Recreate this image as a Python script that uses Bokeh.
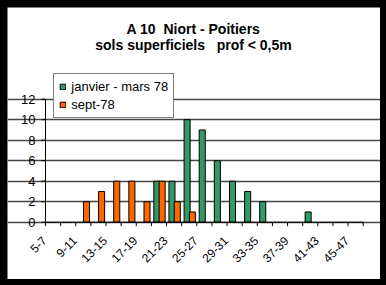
import numpy as np
from math import pi
from bokeh.plotting import figure
from bokeh.models import (ColumnDataSource, FixedTicker, Legend, LegendItem,
                          Label, Range1d)
from bokeh.core.properties import value
from bokeh.layouts import column
from bokeh.embed import file_html
from bokeh.resources import INLINE

# ---- data ----
categories = ["5-7", "7-9", "9-11", "11-13", "13-15", "15-17", "17-19",
              "19-21", "21-23", "23-25", "25-27", "27-29", "29-31", "31-33",
              "33-35", "35-37", "37-39", "39-41", "41-43", "43-45", "45-47"]
janvier_mars_78 = [0, 0, 0, 0, 0, 0, 0, 4, 4, 10, 9, 6, 4, 3, 2, 0, 0, 1, 0, 0, 0]
sept_78 = [0, 0, 2, 3, 4, 4, 2, 4, 2, 1, 0, 0, 0, 0, 0, 0, 0, 0, 0, 0, 0]
series_names = ["janvier - mars 78", "sept-78"]
y_ticks = [0, 2, 4, 6, 8, 10, 12]
title_lines = ["A 10 \u00a0Niort - Poitiers",
               "sols superficiels \u00a0\u00a0prof < 0,5m"]

GREEN = "#339966"
ORANGE = "#FF6600"
FONT = "Liberation Sans"
PY = 10.25    # pixels per y unit
PX = 15.129   # pixels per category

n = len(categories)
idx = np.arange(n)
y_max = y_ticks[-1]

def src(vals, off):
    vals = np.array(vals, dtype=float)
    m = vals > 0
    return ColumnDataSource(dict(x=(idx + off)[m], top=vals[m]))

W, H = 373, 272
# frame covers the whole figure; axes are drawn by hand
x_range = Range1d(-38 / PX, n + (W - 38 - n * PX) / PX)
y_range = Range1d(-(H - 214.7) / PY, y_max + 91.7 / PY)
p = figure(width=W, height=H, x_range=x_range, y_range=y_range,
           x_axis_location=None, y_axis_location=None,
           output_backend="svg", toolbar_location=None,
           min_border_left=0, min_border_right=0, min_border_top=0,
           min_border_bottom=0, margin=(7, 6, 6, 7))
p.outline_line_color = None
p.background_fill_color = "white"
p.border_fill_color = "white"

# horizontal grid over the category span only
p.xgrid.visible = False
p.ygrid.ticker = FixedTicker(ticks=y_ticks)
p.ygrid.bounds = (0, n)
p.ygrid.grid_line_color = "#464646"
p.ygrid.grid_line_width = 1.5
p.ygrid.level = "underlay"

g = p.vbar(x="x", top="top", bottom=0, width=0.4, source=src(janvier_mars_78, 0.36),
           fill_color=GREEN, line_color="black", line_width=1)
o = p.vbar(x="x", top="top", bottom=0, width=0.4, source=src(sept_78, 0.71),
           fill_color=ORANGE, line_color="black", line_width=1)

# x axis: line, category boundary ticks, rotated labels
p.segment(x0=[0], y0=[0], x1=[n], y1=[0], line_color="black", line_width=1)
tick_x = list(range(n + 1))
p.segment(x0=tick_x, y0=[0] * len(tick_x), x1=tick_x,
          y1=[-4 / PY] * len(tick_x), line_color="black", line_width=1)
lab_idx = list(range(0, n, 2))
p.text(x=[i + 0.5 for i in lab_idx], y=[0] * len(lab_idx),
       text=[categories[i] for i in lab_idx], angle=pi / 4,
       text_align="right", text_baseline="top", x_offset=-12, y_offset=13,
       text_font=value(FONT), text_font_size="12px", text_color="black")

# y axis: line, ticks, labels
p.segment(x0=[0], y0=[0], x1=[0], y1=[y_max], line_color="black", line_width=1)
p.segment(x0=[0] * len(y_ticks), y0=y_ticks, x1=[-4 / PX] * len(y_ticks),
          y1=y_ticks, line_color="black", line_width=1)
p.text(x=[0] * len(y_ticks), y=y_ticks, text=[str(t) for t in y_ticks],
       text_align="right", text_baseline="middle", x_offset=-10, y_offset=0,
       text_font=value(FONT), text_font_size="13px", text_color="black")

# legend
legend = Legend(items=[LegendItem(label=series_names[0], renderers=[g]),
                       LegendItem(label=series_names[1], renderers=[o])],
                location=(46.3, 161.3), orientation="vertical",
                glyph_width=7, glyph_height=7, label_standoff=5,
                label_height=12, spacing=3, padding=5, margin=0,
                label_text_font=FONT, label_text_font_size="13px",
                label_text_color="black",
                border_line_color="black", border_line_width=1,
                background_fill_color="white", background_fill_alpha=1)
p.add_layout(legend, "center")

# title (two lines)
for txt, yy in zip(title_lines, [251, 234.7]):
    p.add_layout(Label(x=186, y=yy, x_units="screen", y_units="screen", text=txt,
                       text_align="center", text_baseline="alphabetic",
                       text_font=FONT, text_font_style="bold",
                       text_font_size="14px", text_color="black"))

layout = column(p, styles={"background-color": "black"})
open("out.html", "w").write(file_html(layout, INLINE))
